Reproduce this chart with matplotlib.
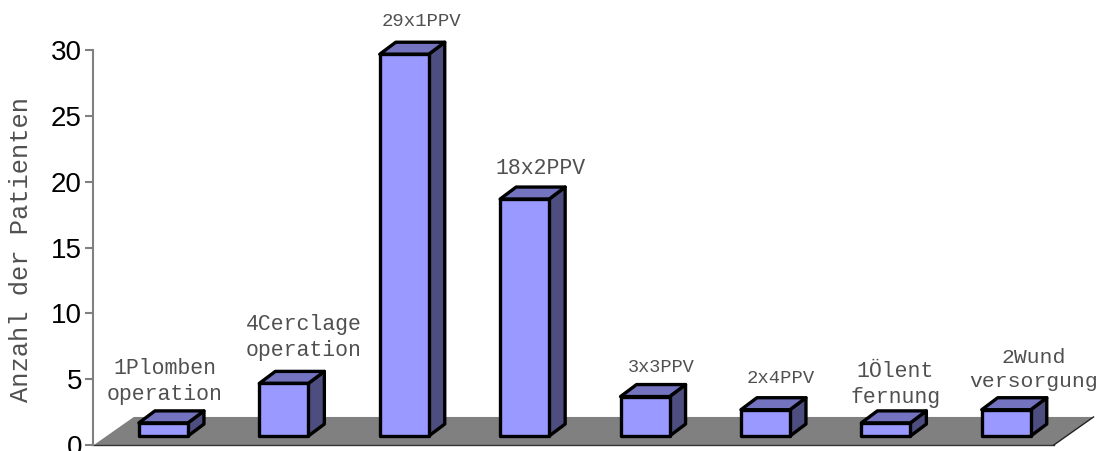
import matplotlib
matplotlib.use("Agg")
import matplotlib.pyplot as plt
from matplotlib.patches import Polygon

# Number of patients per procedure
values = [1, 4, 29, 18, 3, 2, 1, 2]
labels = ["1Plomben\noperation", "4Cerclage\noperation", "29x1PPV", "18x2PPV",
          "3x3PPV", "2x4PPV", "1Ölent\nfernung", "2Wund\nversorgung"]
label_sizes = [15.5, 15.5, 13.7, 15.5, 13.4, 13.6, 15.5, 15.4]
label_x = [0.012, 1.165, 2.14, 3.13, 4.135, 5.13, 6.08, 7.23]
label_y = [4.85, 8.16, 32.2, 20.98, 5.88, 5.08, 4.6, 5.72]
yticks = [0, 5, 10, 15, 20, 25, 30]

FRONT, TOP, SIDE, FLOOR = "#9999FF", "#7373BF", "#4D4D80", "#808080"
AXIS, TEXT = "#808080", "#505050"

# Pseudo-3D geometry in data units
BAR_W = 0.407
DX, DY = 0.133, 0.911
BASE = 0.68

fig = plt.figure(figsize=(10.98, 4.51), dpi=100)
ax = fig.add_axes([93 / 1098, 1 - 445 / 451, 1005 / 1098, 395 / 451])
ax.set_xlim(-0.585, 7.762)
ax.set_ylim(0, 30)

floor = [(-0.578, 0), (7.395, 0), (7.725, 2.13), (-0.246, 2.13)]
ax.add_patch(Polygon(floor, closed=True, fc=FLOOR, ec="none", zorder=1))
ax.plot([-0.585, 7.395], [0, 0], color="#333333", lw=1, zorder=1.5, clip_on=False)
ax.plot([7.395, 7.725], [0, 2.13], color="#222222", lw=1, zorder=1.5, clip_on=False)

for i, v in enumerate(values):
    x0, x1 = i - BAR_W / 2, i + BAR_W / 2
    y0, y1 = BASE, BASE + v
    style = dict(closed=True, ec="black", lw=2.4, joinstyle="round", zorder=3 + i, clip_on=False)
    ax.add_patch(Polygon([(x1, y0), (x1 + DX, y0 + DY), (x1 + DX, y1 + DY), (x1, y1)], fc=SIDE, **style))
    ax.add_patch(Polygon([(x0, y1), (x1, y1), (x1 + DX, y1 + DY), (x0 + DX, y1 + DY)], fc=TOP, **style))
    ax.add_patch(Polygon([(x0, y0), (x1, y0), (x1, y1), (x0, y1)], fc=FRONT, **style))

for x, y, s, fs in zip(label_x, label_y, labels, label_sizes):
    ax.text(x, y, s, ha="center", va="center", family="Liberation Mono", fontsize=fs,
            color=TEXT, linespacing=1.33, clip_on=False, zorder=20)

for side in ("top", "right", "bottom"):
    ax.spines[side].set_visible(False)
ax.spines["left"].set_color(AXIS)
ax.spines["left"].set_linewidth(1.5)
ax.set_xticks([])
ax.set_yticks(yticks)
ax.tick_params(axis="y", length=6, width=1.5, color=AXIS, pad=2)
for t in ax.get_yticklabels():
    t.set_family("Liberation Sans")
    t.set_fontsize(20)
    t.set_color("black")

fig.text(21 / 1098, 1 - 249 / 451, "Anzahl der Patienten", rotation=90, ha="center", va="center",
         family="Liberation Mono", fontsize=18.4, color=TEXT)

fig.savefig("out.png", dpi=100)
